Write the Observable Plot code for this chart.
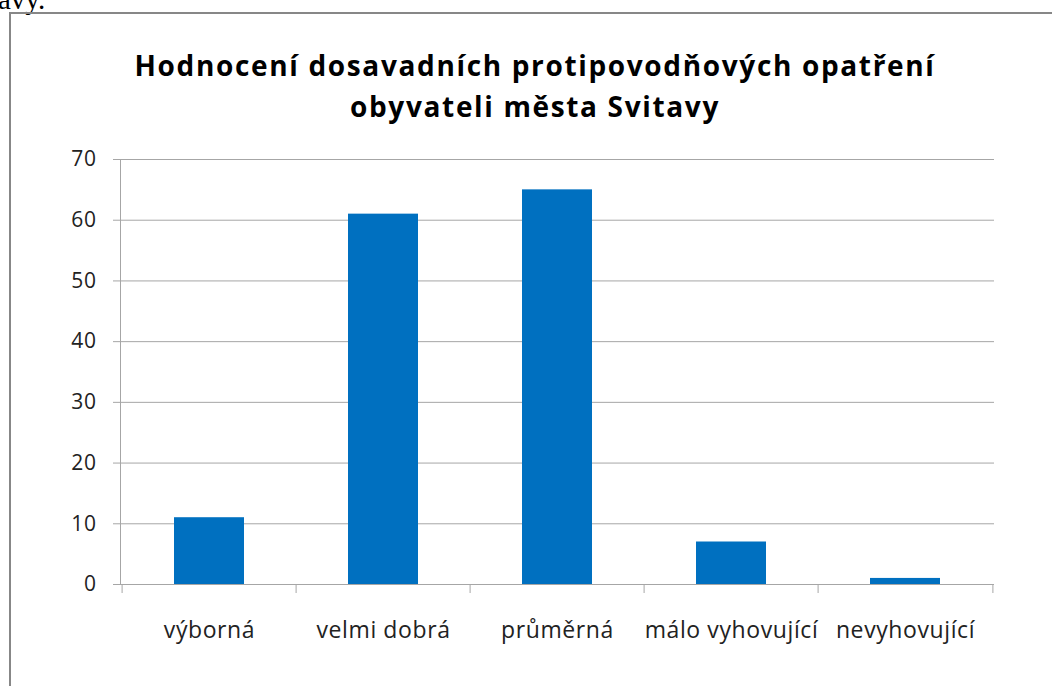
<!DOCTYPE html>
<html>
<head>
<meta charset="utf-8">
<script src="https://cdn.jsdelivr.net/npm/d3@7"></script>
<script src="https://cdn.jsdelivr.net/npm/@observablehq/plot@0.6"></script>
<style>
  html, body { margin: 0; padding: 0; background: #fff; }
  #page { position: relative; width: 1052px; height: 686px; overflow: hidden; }
  #prev { position: absolute; left: -2px; top: -17px; font-family: "Liberation Serif", serif; font-size: 29px; line-height: 32px; color: #000; }
  #box { position: absolute; left: 9px; top: 12px; width: 1100px; height: 700px; border: 2px solid #878787; box-sizing: border-box; }
  #title { position: absolute; left: 0; width: 1070px; top: 45px; text-align: center; font-family: "Open Sans", sans-serif; font-weight: bold; font-size: 28px; letter-spacing: 1.65px; line-height: 41px; color: #000; }
  #chart { position: absolute; left: 0; top: 0; }
  #chart svg text { letter-spacing: 0.6px; }
</style>
</head>
<body>
<div id="page">
  <div id="prev">avy.</div>
  <div id="box"></div>
  <div id="title">Hodnocení dosavadních protipovodňových opatření<br>obyvateli města Svitavy</div>
  <div id="chart"></div>
</div>
<script>
const categories = ["výborná", "velmi dobrá", "průměrná", "málo vyhovující", "nevyhovující"];
const values = [11, 61, 65, 7, 1];
const yTicks = [0, 10, 20, 30, 40, 50, 60, 70];

const data = categories.map((c, i) => ({category: c, value: values[i]}));
const W = 1052, H = 686, ml = 120, mr = 58, mt = 159, mb = 102;
const step = (W - ml - mr) / categories.length;
const gray = "#a6a6a6";

const chart = Plot.plot({
  width: W, height: H,
  marginLeft: ml, marginRight: mr, marginTop: mt, marginBottom: mb,
  style: {fontFamily: "'Open Sans', sans-serif", background: "transparent", color: "#222"},
  x: {domain: categories, paddingInner: 0.6, paddingOuter: 0.3, label: null, axis: null},
  y: {domain: [0, 70], label: null, axis: null},
  marks: [
    Plot.gridY(yTicks.filter(d => d > 0), {stroke: gray, strokeOpacity: 1}),
    Plot.barY(data, {x: "category", y: "value", fill: "#0070C0"}),
    Plot.frame({anchor: "left", stroke: gray}),
    Plot.ruleY([0], {stroke: gray}),
    Plot.axisY({ticks: yTicks, tickSize: 7, tickPadding: 17, fontSize: 21, stroke: gray, fill: "#222", label: null}),
    Plot.axisX({tickSize: 0, tickPadding: 37, fontSize: 23, fill: "#222", label: null}),
    Plot.axisX({tickSize: 9, text: null, dx: -step / 2, stroke: gray, label: null}),
    Plot.axisX({ticks: [categories[categories.length - 1]], tickSize: 9, text: null, dx: step / 2, stroke: gray, label: null})
  ]
});
document.getElementById("chart").appendChild(chart);
</script>
</body>
</html>
